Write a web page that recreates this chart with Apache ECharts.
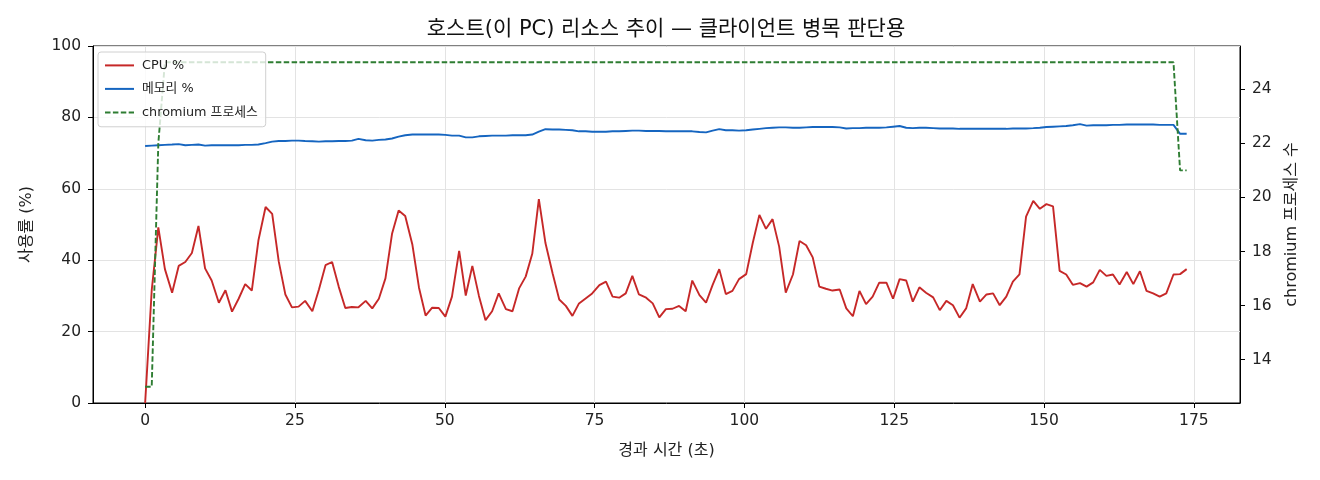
<!DOCTYPE html>
<html>
<head>
  <meta charset="utf-8">
  <title>host resources</title>
  <script src="https://cdn.jsdelivr.net/npm/echarts@6/dist/echarts.min.js"></script>
  <style>
    html, body { margin: 0; padding: 0; background: #fff; }
    #chart { width: 1320px; height: 480px; }
  </style>
</head>
<body>
  <div id="chart"></div>
  <script>
    // elapsed time of each sample (s)
    var times = [
      0, 1.1, 2.2, 3.3, 4.5, 5.6, 6.7, 7.8, 8.9, 10.0,
      11.1, 12.3, 13.4, 14.5, 15.6, 16.7, 17.8, 18.9, 20.1, 21.2,
      22.3, 23.4, 24.5, 25.6, 26.7, 27.9, 29.0, 30.1, 31.2, 32.3,
      33.4, 34.5, 35.6, 36.8, 37.9, 39.0, 40.1, 41.2, 42.3, 43.4,
      44.6, 45.7, 46.8, 47.9, 49.0, 50.1, 51.2, 52.4, 53.5, 54.6,
      55.7, 56.8, 57.9, 59.0, 60.2, 61.3, 62.4, 63.5, 64.6, 65.7,
      66.8, 68.0, 69.1, 70.2, 71.3, 72.4, 73.5, 74.6, 75.8, 76.9,
      78.0, 79.1, 80.2, 81.3, 82.4, 83.6, 84.7, 85.8, 86.9, 88.0,
      89.1, 90.2, 91.3, 92.5, 93.6, 94.7, 95.8, 96.9, 98.0, 99.1,
      100.3, 101.4, 102.5, 103.6, 104.7, 105.8, 106.9, 108.1, 109.2, 110.3,
      111.4, 112.5, 113.6, 114.7, 115.9, 117.0, 118.1, 119.2, 120.3, 121.4,
      122.5, 123.7, 124.8, 125.9, 127.0, 128.1, 129.2, 130.3, 131.5, 132.6,
      133.7, 134.8, 135.9, 137.0, 138.1, 139.3, 140.4, 141.5, 142.6, 143.7,
      144.8, 145.9, 147.0, 148.2, 149.3, 150.4, 151.5, 152.6, 153.7, 154.8,
      156.0, 157.1, 158.2, 159.3, 160.4, 161.5, 162.6, 163.8, 164.9, 166.0,
      167.1, 168.2, 169.3, 170.4, 171.6, 172.7, 173.8
    ];
    var cpu = [
      0, 31.6, 49.2, 37.5, 30.9, 38.4, 39.5, 42.0, 49.6, 37.7,
      34.3, 28.1, 31.6, 25.6, 29.2, 33.3, 31.5, 45.5, 54.9, 53.0,
      39.6, 30.4, 26.8, 27.0, 28.6, 25.7, 31.8, 38.6, 39.5, 32.6,
      26.6, 26.9, 26.8, 28.6, 26.5, 29.2, 34.9, 47.4, 53.9, 52.4,
      44.3, 32.3, 24.5, 26.7, 26.6, 24.2, 29.8, 42.6, 30.1, 38.4,
      30.0, 23.2, 25.7, 30.7, 26.3, 25.7, 32.1, 35.4, 41.8, 57.1,
      44.8, 36.3, 29.0, 27.2, 24.4, 27.9, 29.3, 30.7, 33.0, 34.0,
      29.8, 29.5, 30.7, 35.6, 30.4, 29.5, 27.9, 24.0, 26.3, 26.4,
      27.2, 25.7, 34.3, 30.2, 28.1, 33.1, 37.5, 30.5, 31.4, 34.7,
      36.1, 44.9, 52.7, 48.8, 51.5, 43.8, 30.9, 36.0, 45.4, 44.2,
      40.8, 32.6, 32.0, 31.5, 31.8, 26.5, 24.3, 31.4, 27.7, 29.8,
      33.7, 33.7, 29.2, 34.7, 34.3, 28.4, 32.4, 30.9, 29.6, 26.0,
      28.6, 27.4, 23.9, 26.5, 33.3, 28.4, 30.4, 30.7, 27.4, 29.8,
      34.0, 36.0, 52.2, 56.6, 54.4, 55.7, 55.1, 37.0, 36.0, 33.1,
      33.6, 32.6, 33.8, 37.3, 35.6, 36.0, 33.2, 36.7, 33.3, 36.9,
      31.4, 30.7, 29.8, 30.7, 36.0, 36.1, 37.5
    ];
    var mem = [
      72.0, 72.1, 72.2, 72.3, 72.4, 72.5, 72.2, 72.3, 72.4, 72.1,
      72.2, 72.2, 72.2, 72.2, 72.2, 72.3, 72.3, 72.4, 72.8, 73.2,
      73.4, 73.4, 73.5, 73.5, 73.4, 73.3, 73.2, 73.3, 73.3, 73.4,
      73.4, 73.5, 74.0, 73.6, 73.5, 73.7, 73.8, 74.1, 74.6, 75.0,
      75.2, 75.2, 75.2, 75.2, 75.2, 75.1, 74.9, 74.9, 74.4, 74.4,
      74.7, 74.8, 74.9, 74.9, 74.9, 75.0, 75.0, 75.0, 75.2, 76.0,
      76.7, 76.6, 76.6, 76.5, 76.4, 76.1, 76.1, 76.0, 76.0, 76.0,
      76.1, 76.1, 76.2, 76.3, 76.3, 76.2, 76.2, 76.2, 76.1, 76.1,
      76.1, 76.1, 76.1, 75.9, 75.8, 76.3, 76.7, 76.4, 76.4, 76.3,
      76.4, 76.6, 76.8, 77.0, 77.1, 77.2, 77.2, 77.1, 77.1, 77.2,
      77.3, 77.3, 77.3, 77.3, 77.2, 76.9, 77.0, 77.0, 77.1, 77.1,
      77.1, 77.2, 77.4, 77.6, 77.1, 77.0, 77.1, 77.1, 77.0, 76.9,
      76.9, 76.9, 76.8, 76.8, 76.8, 76.8, 76.8, 76.8, 76.8, 76.8,
      76.9, 76.9, 76.9, 77.0, 77.1, 77.3, 77.4, 77.5, 77.6, 77.8,
      78.1, 77.7, 77.8, 77.8, 77.8, 77.9, 77.9, 78.0, 78.0, 78.0,
      78.0, 78.0, 77.9, 77.9, 77.9, 75.4, 75.4
    ];
    var procs = [
      13, 13, 22, 25, 25, 25, 25, 25, 25, 25,
      25, 25, 25, 25, 25, 25, 25, 25, 25, 25,
      25, 25, 25, 25, 25, 25, 25, 25, 25, 25,
      25, 25, 25, 25, 25, 25, 25, 25, 25, 25,
      25, 25, 25, 25, 25, 25, 25, 25, 25, 25,
      25, 25, 25, 25, 25, 25, 25, 25, 25, 25,
      25, 25, 25, 25, 25, 25, 25, 25, 25, 25,
      25, 25, 25, 25, 25, 25, 25, 25, 25, 25,
      25, 25, 25, 25, 25, 25, 25, 25, 25, 25,
      25, 25, 25, 25, 25, 25, 25, 25, 25, 25,
      25, 25, 25, 25, 25, 25, 25, 25, 25, 25,
      25, 25, 25, 25, 25, 25, 25, 25, 25, 25,
      25, 25, 25, 25, 25, 25, 25, 25, 25, 25,
      25, 25, 25, 25, 25, 25, 25, 25, 25, 25,
      25, 25, 25, 25, 25, 25, 25, 25, 25, 25,
      25, 25, 25, 25, 25, 21, 21
    ];
    var xTicks = [0, 25, 50, 75, 100, 125, 150, 175];
    var rightTicks = [14, 16, 18, 20, 22, 24];

    function pairs(vals) {
      return vals.map(function (v, i) { return [times[i], v]; });
    }

    var font = '"DejaVu Sans", "Noto Sans CJK KR", sans-serif';
    var tickStyle = { show: true, inside: false, length: 5, lineStyle: { color: '#000', width: 1 } };

    var option = {
      animation: false,
      backgroundColor: '#fff',
      textStyle: { fontFamily: font },
      title: {
        text: '호스트(이 PC) 리소스 추이 — 클라이언트 병목 판단용',
        left: 666, top: 19, padding: 0,
        textAlign: 'center',
        textStyle: { fontSize: 21, fontWeight: 'normal', color: '#111', fontFamily: font }
      },
      grid: {
        left: 93, right: 80, top: 46, bottom: 77,
        show: true, borderColor: '#000', borderWidth: 1
      },
      legend: {
        orient: 'vertical',
        left: 98, top: 52,
        padding: [7, 8, 8, 6],
        itemWidth: 29, itemHeight: 12, itemGap: 10.7,
        backgroundColor: 'rgba(255,255,255,0.8)',
        borderColor: '#d0d0d0', borderWidth: 1, borderRadius: 3,
        itemStyle: { opacity: 0 },
        textStyle: { fontSize: 12.8, color: '#222', fontFamily: font, padding: [0, 0, 0, 3] },
        data: ['CPU %', '메모리 %', 'chromium 프로세스']
      },
      xAxis: {
        type: 'value',
        min: -8.7, max: 182.7,
        name: '경과 시간 (초)',
        nameLocation: 'middle', nameGap: 40,
        nameTextStyle: { fontSize: 16, color: '#222' },
        axisLine: { show: true, lineStyle: { color: '#000' } },
        axisTick: Object.assign({ customValues: xTicks }, tickStyle),
        axisLabel: { customValues: xTicks, fontSize: 15.5, color: '#222', margin: 10 },
        splitLine: { show: true, lineStyle: { color: '#e3e3e3', width: 1 } }
      },
      yAxis: [{
        type: 'value',
        min: 0, max: 100, interval: 20,
        position: 'left',
        name: '사용률 (%)',
        nameLocation: 'middle', nameGap: 58,
        nameTextStyle: { fontSize: 16, color: '#222' },
        axisLine: { show: true, onZero: false, lineStyle: { color: '#000' } },
        axisTick: tickStyle,
        axisLabel: { fontSize: 15.5, color: '#222', margin: 12 },
        splitLine: { show: true, lineStyle: { color: '#e3e3e3', width: 1 } }
      }, {
        type: 'value',
        min: 12.4, max: 25.6,
        position: 'right',
        name: 'chromium 프로세스 수',
        nameLocation: 'middle', nameGap: 44, nameRotate: 90,
        nameTextStyle: { fontSize: 16, color: '#222' },
        axisLine: { show: true, onZero: false, lineStyle: { color: '#000' } },
        axisTick: Object.assign({ customValues: rightTicks }, tickStyle),
        axisLabel: { customValues: rightTicks, fontSize: 15.5, color: '#222', margin: 12 },
        splitLine: { show: false }
      }],
      series: [{
        name: 'CPU %',
        type: 'line',
        yAxisIndex: 0,
        data: pairs(cpu),
        symbol: 'none',
        lineStyle: { color: '#c62828', width: 1.9 },
        itemStyle: { color: '#c62828' },
        z: 3
      }, {
        name: '메모리 %',
        type: 'line',
        yAxisIndex: 0,
        data: pairs(mem),
        symbol: 'none',
        lineStyle: { color: '#1565c0', width: 1.9 },
        itemStyle: { color: '#1565c0' },
        z: 3
      }, {
        name: 'chromium 프로세스',
        type: 'line',
        yAxisIndex: 1,
        data: pairs(procs),
        symbol: 'none',
        lineStyle: { color: '#2e7d32', width: 1.9, type: [5.5, 2.4] },
        itemStyle: { color: '#2e7d32' },
        z: 3
      }]
    };

    var chart = echarts.init(document.getElementById('chart'));
    chart.setOption(option);
  </script>
</body>
</html>
